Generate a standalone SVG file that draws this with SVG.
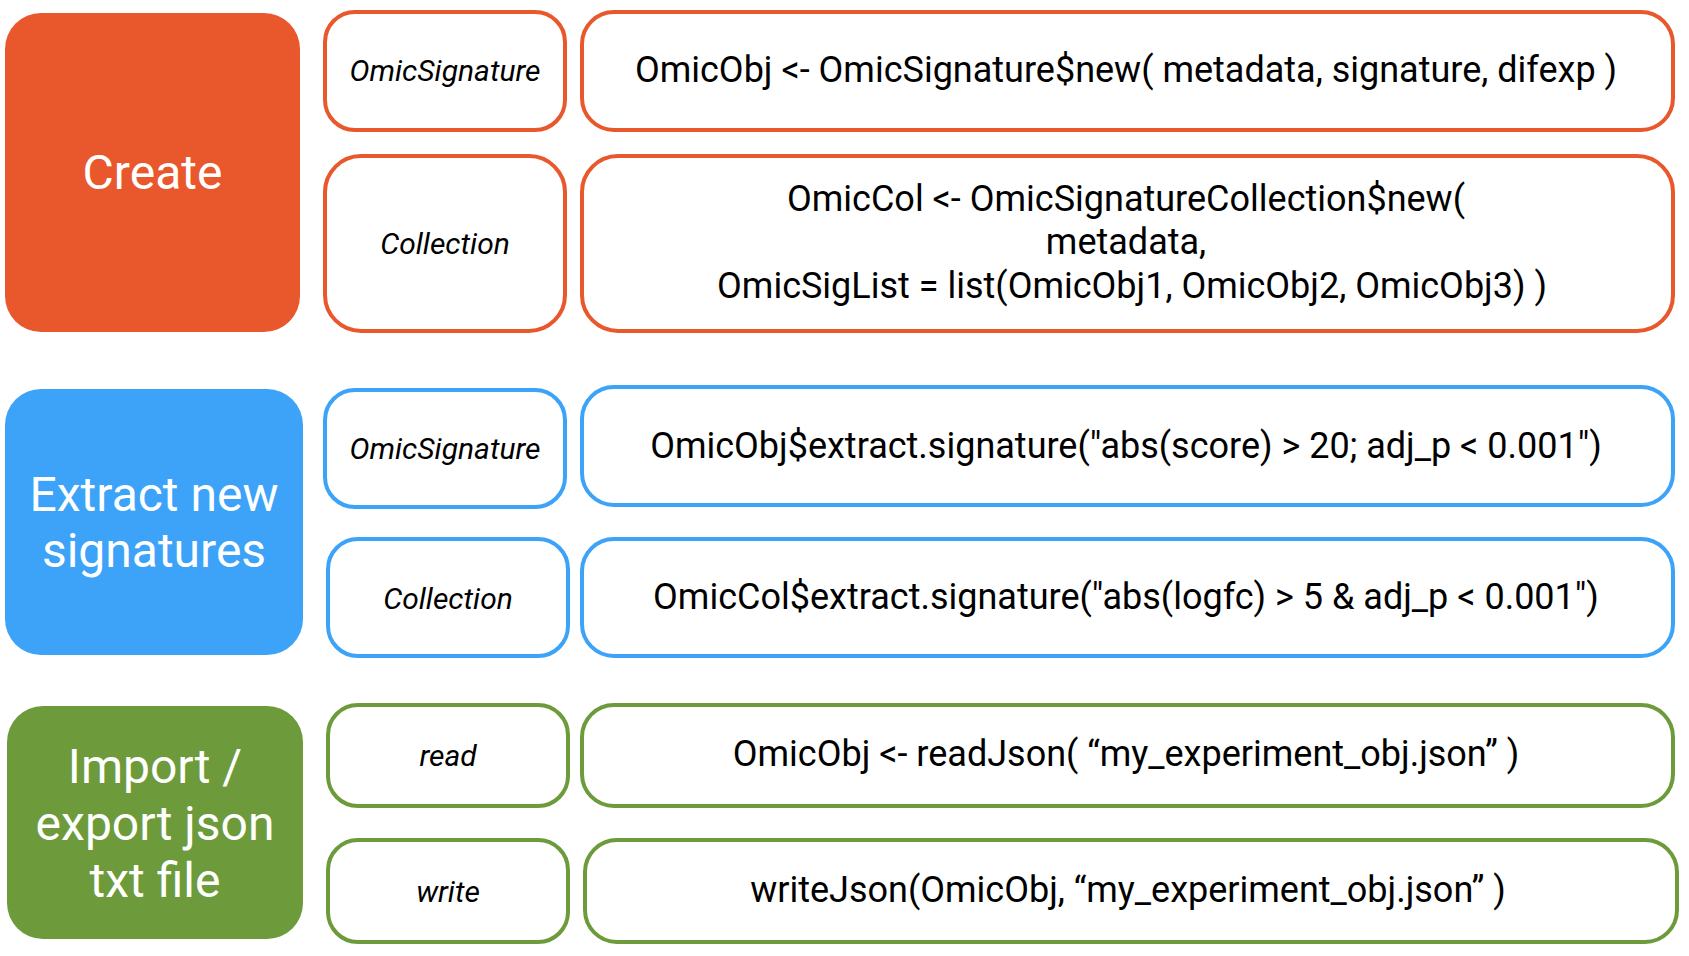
<svg xmlns="http://www.w3.org/2000/svg" width="1689" height="956" viewBox="0 0 1689 956">
<style>
.big{font-family:Roboto,"Liberation Sans",sans-serif;font-size:48px;fill:#fff;text-anchor:middle}
.lbl{font-family:Roboto,"Liberation Sans",sans-serif;font-size:30px;font-style:italic;fill:#000;text-anchor:middle}
.code{font-family:Roboto,"Liberation Sans",sans-serif;font-size:36px;fill:#000;text-anchor:middle}
.box{fill:#fff;stroke-width:4}
.o{stroke:#E9582D}.b{stroke:#3CA3F8}.g{stroke:#6D9B3B}
</style>
<rect width="1689" height="956" fill="#fff"/>
<g id="create">
<rect x="5" y="13" width="295" height="319" rx="36" fill="#E9582D"/>
<text class="big" x="152.5" y="189">Create</text>
</g>
<g id="create-sig">
<rect class="box o" x="325" y="12" width="240" height="118" rx="30"/>
<text class="lbl" x="445" y="81">OmicSignature</text>
</g>
<g id="create-sig-code">
<rect class="box o" x="582" y="12" width="1091" height="118" rx="32"/>
<text class="code" x="1126" y="82">OmicObj &lt;- OmicSignature$new( metadata, signature, difexp )</text>
</g>
<g id="create-col">
<rect class="box o" x="325" y="156" width="240" height="175" rx="36"/>
<text class="lbl" x="445" y="254">Collection</text>
</g>
<g id="create-col-code">
<rect class="box o" x="582" y="156" width="1091" height="175" rx="36"/>
<text class="code" x="1126"><tspan x="1126" y="211">OmicCol &lt;- OmicSignatureCollection$new(</tspan><tspan x="1126" y="254">metadata,</tspan><tspan x="1132" y="298">OmicSigList = list(OmicObj1, OmicObj2, OmicObj3) )</tspan></text>
</g>
<g id="extract">
<rect x="5" y="389" width="298" height="266" rx="36" fill="#3CA3F8"/>
<text class="big"><tspan x="154" y="511">Extract new</tspan><tspan x="154" y="567">signatures</tspan></text>
</g>
<g id="extract-sig">
<rect class="box b" x="325" y="390" width="240" height="117" rx="30"/>
<text class="lbl" x="445" y="459">OmicSignature</text>
</g>
<g id="extract-sig-code">
<rect class="box b" x="582" y="387" width="1091" height="118" rx="32"/>
<text class="code" x="1126" y="458">OmicObj$extract.signature("abs(score) &gt; 20; adj_p &lt; 0.001")</text>
</g>
<g id="extract-col">
<rect class="box b" x="328" y="539" width="240" height="117" rx="30"/>
<text class="lbl" x="448" y="609">Collection</text>
</g>
<g id="extract-col-code">
<rect class="box b" x="582" y="539" width="1091" height="117" rx="32"/>
<text class="code" x="1126" y="609">OmicCol$extract.signature("abs(logfc) &gt; 5 &amp; adj_p &lt; 0.001")</text>
</g>
<g id="io">
<rect x="7" y="706" width="296" height="233" rx="36" fill="#6D9B3B"/>
<text class="big"><tspan x="155" y="783">Import /</tspan><tspan x="155" y="840">export json</tspan><tspan x="155" y="897">txt file</tspan></text>
</g>
<g id="io-read">
<rect class="box g" x="328" y="705" width="240" height="101" rx="30"/>
<text class="lbl" x="448" y="766">read</text>
</g>
<g id="io-read-code">
<rect class="box g" x="582" y="705" width="1091" height="101" rx="32"/>
<text class="code" x="1126" y="766">OmicObj &lt;- readJson( “my_experiment_obj.json” )</text>
</g>
<g id="io-write">
<rect class="box g" x="328" y="840" width="240" height="102" rx="30"/>
<text class="lbl" x="448" y="902">write</text>
</g>
<g id="io-write-code">
<rect class="box g" x="585" y="840" width="1092" height="102" rx="32"/>
<text class="code" x="1128" y="902">writeJson(OmicObj, “my_experiment_obj.json” )</text>
</g>
<g id="connectors"></g>
</svg>
